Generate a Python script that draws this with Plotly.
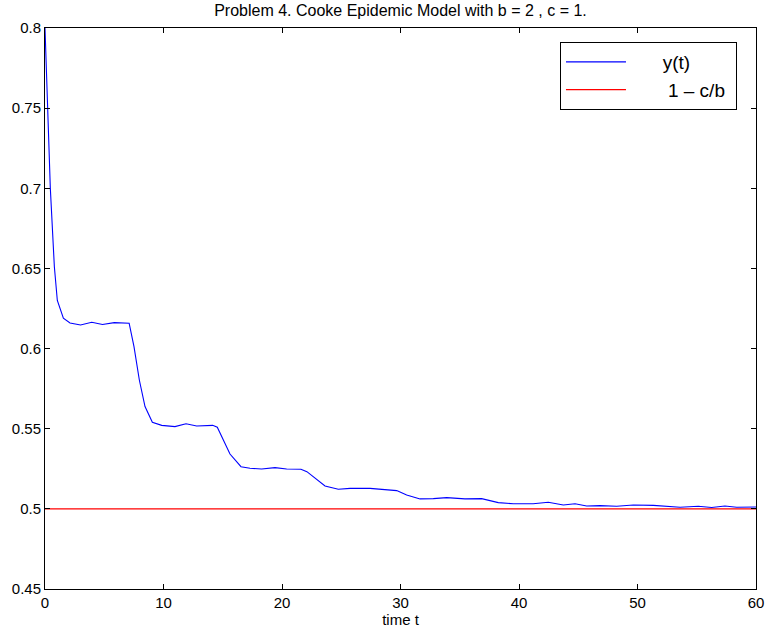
import plotly.graph_objects as go

# time values (t) and y(t)
t_vals = [0.0, 0.2, 0.45, 0.79, 1.04, 1.55, 2.11, 3.0, 3.95, 4.85, 5.85, 7.1,
          7.51, 7.96, 8.44, 9.06, 9.85, 10.97, 11.9, 12.8, 14.15, 14.54,
          15.61, 16.54, 17.3, 18.28, 19.41, 20.39, 21.6, 22.1, 23.63, 24.75,
          25.74, 27.43, 28.55, 29.68, 30.52, 31.65, 32.77, 33.9, 35.44, 36.85,
          38.25, 39.52, 41.2, 42.47, 43.74, 44.73, 45.71, 46.84, 48.24, 49.65,
          51.34, 52.46, 53.59, 55.13, 56.26, 57.38, 58.37, 60.0]
y_vals = [0.800, 0.750, 0.700, 0.651, 0.630, 0.619, 0.616, 0.6147, 0.6164, 0.615, 0.6162, 0.6158,
          0.6012, 0.5804, 0.5638, 0.554, 0.5521, 0.5513, 0.5531, 0.5517, 0.5521, 0.5509,
          0.5342, 0.5263, 0.5253, 0.5249, 0.5257, 0.5249, 0.5247, 0.5232, 0.5143, 0.5122,
          0.5128, 0.5128, 0.5122, 0.5114, 0.5087, 0.5062, 0.5064, 0.507, 0.5062, 0.5064,
          0.5039, 0.5032, 0.5032, 0.5041, 0.5024, 0.5032, 0.5018, 0.502, 0.5016, 0.5024,
          0.5022, 0.5018, 0.501, 0.5016, 0.5008, 0.5018, 0.501, 0.5012]

b = 2
c = 1
eq_t = [0, 60]
eq_y = [1 - c / b, 1 - c / b]

x_ticks = [0, 10, 20, 30, 40, 50, 60]
y_ticks = [0.45, 0.5, 0.55, 0.6, 0.65, 0.7, 0.75, 0.8]
y_tick_text = ["0.45", "0.5", "0.55", "0.6", "0.65", "0.7", "0.75", "0.8"]

FONT = "Liberation Sans, Arial, Helvetica, sans-serif"
NB = "\u00a0"

fig = go.Figure()
fig.add_trace(go.Scatter(x=t_vals, y=y_vals, mode="lines",
                         line=dict(color="#0000ff", width=1.1),
                         name=NB * 6 + "y(t)"))
fig.add_trace(go.Scatter(x=eq_t, y=eq_y, mode="lines",
                         line=dict(color="#ff0000", width=1.1),
                         name=NB * 7 + "1 \u2013 c/b" + NB))

axis_common = dict(showline=True, linecolor="black", linewidth=1, mirror="allticks",
                   ticks="inside", ticklen=5, tickcolor="black", showgrid=False,
                   zeroline=False, automargin=False,
                   tickfont=dict(family=FONT, size=15, color="black"))

fig.update_layout(
    width=765, height=632,
    margin=dict(l=45, r=9, t=28, b=43),
    paper_bgcolor="white", plot_bgcolor="white",
    title=dict(text="Problem 4. Cooke Epidemic Model with b = 2 , c = 1.",
               xref="paper", x=0.5, xanchor="center", y=0.993, yanchor="top",
               font=dict(family=FONT, size=16, color="black")),
    xaxis=dict(range=[0, 60], tickvals=x_ticks,
               title=dict(text="time t", font=dict(family=FONT, size=15, color="black"),
                          standoff=0),
               **axis_common),
    yaxis=dict(range=[0.45, 0.8], tickvals=y_ticks, ticktext=y_tick_text,
               **axis_common),
    legend=dict(x=0.7243, y=0.975, xanchor="left", yanchor="top",
                bgcolor="white", bordercolor="black", borderwidth=1,
                font=dict(family=FONT, size=19, color="black"),
                itemwidth=60, tracegroupgap=0),
    showlegend=True,
)

fig.write_html("out.html", config={"displayModeBar": False},
               post_script="document.body.style.margin='0';")
